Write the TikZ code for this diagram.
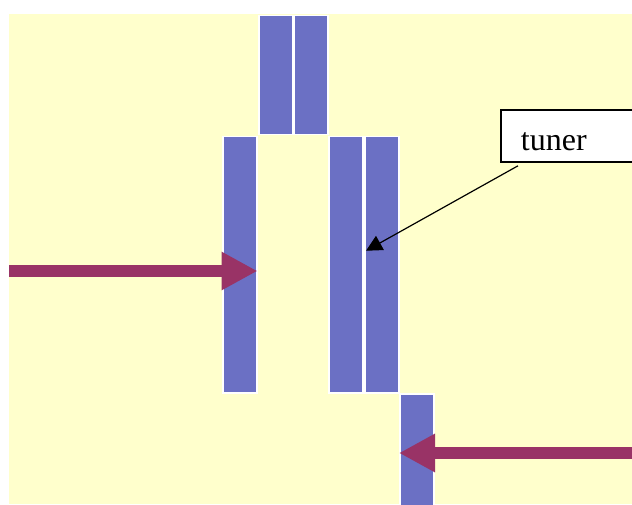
\documentclass[tikz,border=0pt]{standalone}
\usepackage{fontspec}
\setmainfont{Liberation Serif}
\usetikzlibrary{positioning}
\usetikzlibrary{arrows.meta}
\definecolor{paper}{RGB}{255,255,204}
\definecolor{plate}{RGB}{107,112,196}
\definecolor{feedred}{RGB}{153,51,102}
\tikzset{% styles of the plates and feeds
        blk/.style={rectangle, draw=white, line width=1.5pt, fill=plate,
                    minimum width=34pt, inner sep=0pt, anchor=north west},
        feed/.style={draw=feedred, line width=12pt,
                     -{Triangle[length=36pt,width=36pt]}},
        tunerbox/.style={rectangle, draw=black, fill=white, line width=1.8pt,
                         anchor=north west, minimum width=160pt, minimum height=52pt,
                         text height=29pt, text depth=0pt, inner xsep=20pt,
                         inner ysep=11.5pt, text width=120pt, align=left,
                         font=\fontsize{32}{36}\selectfont}
        }

\begin{document}
\begin{tikzpicture}[x=1pt,y=-1pt]
 \useasboundingbox (0,0) rectangle (632,505);
 \clip (0,0) rectangle (632,505);
 \fill[paper] (9,14) rectangle (632,504);
 % plates
 \node[blk, minimum height=119pt] (blkTa) at (258,15) {};
 \node[blk, minimum height=119pt] (blkTb) at (293,15) {};
 \node[blk, minimum height=256pt] (blkL) at (222,136) {};
 \node[blk, minimum height=256pt] (blkRa) at (328,136) {};
 \node[blk, minimum height=256pt] (blkRb) at (364,136) {};
 \node[blk, minimum height=114pt] (blkB) at (399,393) {};
 % feeds
 \coordinate (inL) at (9,271);
 \coordinate (inR) at (632,453);
 \draw[feed] (inL) -- (inL -| blkL.east);
 \draw[feed] (inR) -- (inR -| blkB.west);
 % label
 \node[tunerbox] (tuner) at (500,109) {tuner};
 \draw[line width=1.2pt, -{Triangle[length=16pt,width=16pt]}]
   ([xshift=18pt,yshift=-3pt]tuner.south west) -- ([xshift=2pt,yshift=14pt]blkRb.west);
\end{tikzpicture}
\end{document}
